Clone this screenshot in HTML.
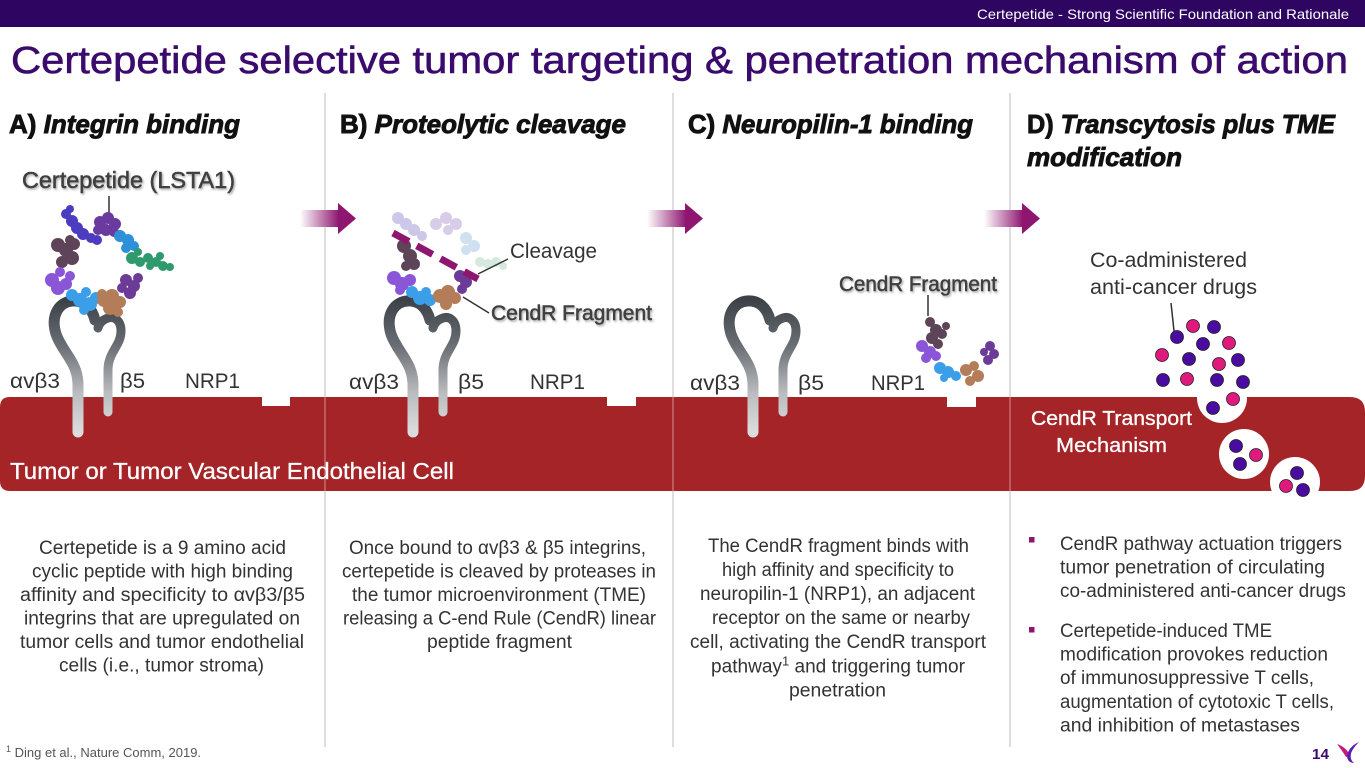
<!DOCTYPE html>
<html><head><meta charset="utf-8">
<style>
html,body{margin:0;padding:0;background:#fff;}
svg{display:block;}
text{font-family:"Liberation Sans",Arial,sans-serif;}
</style></head>
<body>
<svg width="1365" height="768" viewBox="0 0 1365 768" xmlns="http://www.w3.org/2000/svg">
<defs>
  <linearGradient id="ig" gradientUnits="userSpaceOnUse" x1="0" y1="300" x2="0" y2="432">
    <stop offset="0" stop-color="#3c4148"/>
    <stop offset="0.35" stop-color="#6a6f75"/>
    <stop offset="0.7" stop-color="#b9bbbe"/>
    <stop offset="1" stop-color="#dcdcdc"/>
  </linearGradient>
  <linearGradient id="ag" x1="0" y1="0" x2="1" y2="0">
    <stop offset="0" stop-color="#ffffff"/>
    <stop offset="1" stop-color="#8e1670"/>
  </linearGradient>
  <filter id="sh" x="-10%" y="-30%" width="120%" height="160%">
    <feDropShadow dx="1.2" dy="1.5" stdDeviation="1" flood-color="#000" flood-opacity="0.35"/>
  </filter>
  <g id="integrin">
    <path d="M78 432 L78 385 C78 362 62 352 56 334 C50 314 60 302 72 301 C84 300 92 308 95 320" fill="none" stroke="url(#ig)" stroke-width="11" stroke-linecap="round"/>
    <path d="M108 412 L108 370 C108 352 121 346 121 331 C121 320 114 316 108 318 C102 320 99 324 98 328" fill="none" stroke="url(#ig)" stroke-width="9" stroke-linecap="round"/>
  </g>
  <g id="arrow">
    <rect x="0" y="210" width="39" height="17" fill="url(#ag)"/>
    <polygon points="38,203 56,218.5 38,234" fill="#8e1670"/>
  </g>
</defs>

<!-- top bar -->
<rect x="0" y="0" width="1365" height="27" fill="#2e0561"/>
<text x="977" y="19" font-size="14" fill="#ffffff" textLength="372" lengthAdjust="spacingAndGlyphs">Certepetide - Strong Scientific Foundation and Rationale</text>

<!-- title -->
<text x="11" y="73" font-size="38" fill="#3a0b6c" stroke="#3a0b6c" stroke-width="0.6" textLength="1337" lengthAdjust="spacingAndGlyphs">Certepetide selective tumor targeting &amp; penetration mechanism of action</text>

<!-- dividers -->
<g stroke="#dedede" stroke-width="2">
  <line x1="325" y1="93" x2="325" y2="747"/>
  <line x1="673" y1="93" x2="673" y2="747"/>
  <line x1="1010" y1="93" x2="1010" y2="747"/>
</g>

<!-- section headers -->
<g font-weight="bold" font-size="26" fill="#111" stroke="#111" stroke-width="0.9">
  <text x="9" y="133" textLength="231" lengthAdjust="spacingAndGlyphs">A) <tspan font-style="italic">Integrin binding</tspan></text>
  <text x="340" y="133" textLength="286" lengthAdjust="spacingAndGlyphs">B) <tspan font-style="italic">Proteolytic cleavage</tspan></text>
  <text x="688" y="133" textLength="285" lengthAdjust="spacingAndGlyphs">C) <tspan font-style="italic">Neuropilin-1 binding</tspan></text>
  <text x="1027" y="133" textLength="308" lengthAdjust="spacingAndGlyphs">D) <tspan font-style="italic">Transcytosis plus TME</tspan></text>
  <text x="1027" y="166" font-style="italic" textLength="155" lengthAdjust="spacingAndGlyphs">modification</text>
</g>

<!-- arrows -->
<use href="#arrow" transform="translate(300,0)"/>
<use href="#arrow" transform="translate(647,0)"/>
<use href="#arrow" transform="translate(984,0)"/>

<!-- cell band -->
<path d="M10 397 L1350 397 Q1365 397 1365 412 L1365 476 Q1365 491 1350 491 L10 491 Q0 491 0 481 L0 407 Q0 397 10 397 Z" fill="#a42428"/>
<g stroke="#ffffff" stroke-opacity="0.25" stroke-width="2">
  <line x1="325" y1="397" x2="325" y2="491"/>
  <line x1="673" y1="397" x2="673" y2="491"/>
  <line x1="1010" y1="397" x2="1010" y2="491"/>
</g>
<!-- NRP1 notches -->
<rect x="262" y="396" width="28" height="10" fill="#fff"/>
<rect x="607" y="396" width="29" height="10" fill="#fff"/>
<rect x="947" y="396" width="29" height="11" fill="#fff"/>

<text x="10" y="479" font-size="23" fill="#ffffff" stroke="#fff" stroke-width="0.3" textLength="444" lengthAdjust="spacingAndGlyphs">Tumor or Tumor Vascular Endothelial Cell</text>

<!-- integrins -->
<use href="#integrin"/>
<use href="#integrin" transform="translate(335,0)"/>
<use href="#integrin" transform="translate(675,0)"/>

<!-- receptor labels -->
<g font-size="21" fill="#333">
  <text x="10" y="388" textLength="50" lengthAdjust="spacingAndGlyphs">αvβ3</text>
  <text x="120" y="388" textLength="25" lengthAdjust="spacingAndGlyphs">β5</text>
  <text x="185" y="388" textLength="55" lengthAdjust="spacingAndGlyphs">NRP1</text>
  <text x="349" y="389" textLength="50" lengthAdjust="spacingAndGlyphs">αvβ3</text>
  <text x="458" y="389" textLength="26" lengthAdjust="spacingAndGlyphs">β5</text>
  <text x="530" y="389" textLength="55" lengthAdjust="spacingAndGlyphs">NRP1</text>
  <text x="690" y="390" textLength="50" lengthAdjust="spacingAndGlyphs">αvβ3</text>
  <text x="798" y="390" textLength="26" lengthAdjust="spacingAndGlyphs">β5</text>
  <text x="871" y="390" textLength="54" lengthAdjust="spacingAndGlyphs">NRP1</text>
</g>

<!-- Panel A peptide -->
<text x="22" y="188" font-size="23" fill="#3f3f3f" stroke="#3f3f3f" stroke-width="0.5" filter="url(#sh)" textLength="213" lengthAdjust="spacingAndGlyphs">Certepetide (LSTA1)</text>
<line x1="109" y1="196" x2="109" y2="213" stroke="#333" stroke-width="1.5"/>
<g fill="#4b3cc0"><circle cx="66" cy="214" r="5"/><circle cx="72" cy="221" r="6"/><circle cx="77" cy="228" r="6"/><circle cx="83" cy="234" r="6"/><circle cx="91" cy="238" r="5"/><circle cx="97" cy="240" r="5"/><circle cx="70" cy="209" r="4"/></g>
<g fill="#6b3a9e"><circle cx="100" cy="222" r="6"/><circle cx="108" cy="218" r="6"/><circle cx="115" cy="224" r="6"/><circle cx="106" cy="230" r="6"/><circle cx="114" cy="232" r="5"/><circle cx="98" cy="230" r="5"/></g>
<g fill="#2e90d8"><circle cx="120" cy="236" r="6"/><circle cx="128" cy="240" r="6"/><circle cx="134" cy="246" r="5"/><circle cx="126" cy="248" r="5"/></g>
<g fill="#2e9a6e"><circle cx="132" cy="258" r="6"/><circle cx="140" cy="262" r="5"/><circle cx="148" cy="258" r="5"/><circle cx="156" cy="262" r="5"/><circle cx="163" cy="266" r="5"/><circle cx="170" cy="267" r="4"/><circle cx="150" cy="266" r="4"/><circle cx="138" cy="252" r="4"/><circle cx="160" cy="256" r="4"/></g>
<g fill="#5e4458"><circle cx="58" cy="245" r="7"/><circle cx="66" cy="250" r="7"/><circle cx="72" cy="258" r="7"/><circle cx="62" cy="262" r="6"/><circle cx="74" cy="244" r="6"/><circle cx="70" cy="240" r="5"/></g>
<g fill="#8b55d8"><circle cx="52" cy="280" r="7"/><circle cx="58" cy="288" r="7"/><circle cx="66" cy="284" r="6"/><circle cx="70" cy="276" r="5"/><circle cx="60" cy="272" r="5"/></g>
<g fill="#6c3b98"><circle cx="126" cy="280" r="6"/><circle cx="134" cy="286" r="6"/><circle cx="130" cy="293" r="6"/><circle cx="138" cy="278" r="5"/><circle cx="122" cy="288" r="5"/></g>
<g fill="#3a9ee8"><circle cx="72" cy="295" r="6"/><circle cx="80" cy="300" r="7"/><circle cx="90" cy="304" r="7"/><circle cx="96" cy="298" r="6"/><circle cx="86" cy="292" r="5"/><circle cx="84" cy="310" r="5"/></g>
<g fill="#b47c58"><circle cx="104" cy="300" r="7"/><circle cx="112" cy="296" r="7"/><circle cx="120" cy="302" r="6"/><circle cx="110" cy="308" r="7"/><circle cx="118" cy="312" r="5"/><circle cx="102" cy="294" r="5"/></g>

<!-- Panel B peptide -->
<g fill="#cdc7ea"><circle cx="398" cy="218" r="6"/><circle cx="406" cy="224" r="6"/><circle cx="414" cy="230" r="6"/><circle cx="422" cy="236" r="5"/></g>
<g fill="#d9cce9"><circle cx="436" cy="224" r="6"/><circle cx="446" cy="218" r="6"/><circle cx="456" cy="224" r="6"/><circle cx="448" cy="230" r="5"/></g>
<g fill="#cfe0f1"><circle cx="466" cy="238" r="6"/><circle cx="474" cy="246" r="6"/><circle cx="466" cy="250" r="5"/></g>
<g fill="#d5e9de"><circle cx="480" cy="262" r="5"/><circle cx="488" cy="264" r="5"/><circle cx="496" cy="262" r="5"/><circle cx="503" cy="266" r="4"/></g>
<g fill="#5e4458"><circle cx="404" cy="246" r="7"/><circle cx="410" cy="256" r="7"/><circle cx="414" cy="264" r="6"/><circle cx="406" cy="266" r="5"/></g>
<g fill="#8b55d8"><circle cx="394" cy="278" r="7"/><circle cx="402" cy="284" r="7"/><circle cx="410" cy="280" r="6"/><circle cx="400" cy="290" r="5"/></g>
<g fill="#3a9ee8"><circle cx="412" cy="292" r="6"/><circle cx="420" cy="298" r="7"/><circle cx="430" cy="300" r="6"/><circle cx="426" cy="292" r="5"/></g>
<g fill="#b47c58"><circle cx="440" cy="296" r="7"/><circle cx="448" cy="292" r="7"/><circle cx="455" cy="298" r="6"/><circle cx="446" cy="304" r="6"/></g>
<g fill="#6c3b98"><circle cx="460" cy="276" r="6"/><circle cx="466" cy="282" r="6"/><circle cx="462" cy="289" r="5"/></g>
<line x1="393" y1="233" x2="478" y2="279" stroke="#8e1670" stroke-width="7" stroke-dasharray="18 9"/>
<line x1="478" y1="274" x2="508" y2="259" stroke="#333" stroke-width="1.5"/>
<line x1="463" y1="297" x2="489" y2="313" stroke="#333" stroke-width="1.5"/>
<text x="510" y="258" font-size="21" fill="#333" textLength="87" lengthAdjust="spacingAndGlyphs">Cleavage</text>
<text x="491" y="320" font-size="21" fill="#3f3f3f" stroke="#3f3f3f" stroke-width="0.5" filter="url(#sh)" textLength="161" lengthAdjust="spacingAndGlyphs">CendR Fragment</text>

<!-- Panel C fragment -->
<text x="839" y="291" font-size="21" fill="#3f3f3f" stroke="#3f3f3f" stroke-width="0.5" filter="url(#sh)" textLength="158" lengthAdjust="spacingAndGlyphs">CendR Fragment</text>
<line x1="928" y1="295" x2="928" y2="316" stroke="#333" stroke-width="1.5"/>
<g fill="#5e4458"><circle cx="930" cy="322" r="5"/><circle cx="936" cy="330" r="6"/><circle cx="932" cy="338" r="6"/><circle cx="942" cy="334" r="5"/><circle cx="938" cy="344" r="5"/><circle cx="946" cy="326" r="4"/></g>
<g fill="#8b55d8"><circle cx="922" cy="346" r="6"/><circle cx="930" cy="352" r="6"/><circle cx="926" cy="358" r="5"/><circle cx="936" cy="356" r="5"/></g>
<g fill="#3a9ee8"><circle cx="940" cy="368" r="6"/><circle cx="948" cy="372" r="6"/><circle cx="956" cy="376" r="5"/><circle cx="944" cy="378" r="4"/></g>
<g fill="#b47c58"><circle cx="966" cy="370" r="6"/><circle cx="974" cy="366" r="5"/><circle cx="978" cy="376" r="6"/><circle cx="970" cy="381" r="5"/></g>
<g fill="#6c3b98"><circle cx="990" cy="346" r="5"/><circle cx="994" cy="354" r="5"/><circle cx="988" cy="360" r="5"/><circle cx="984" cy="352" r="4"/></g>

<!-- Panel D -->
<text x="1090" y="267" font-size="21" fill="#333" textLength="157" lengthAdjust="spacingAndGlyphs">Co-administered</text>
<text x="1090" y="294" font-size="21" fill="#333" textLength="167" lengthAdjust="spacingAndGlyphs">anti-cancer drugs</text>
<line x1="1171" y1="303" x2="1174" y2="331" stroke="#333" stroke-width="1.5"/>
<text x="1031" y="425" font-size="20" fill="#fff" stroke="#fff" stroke-width="0.3" textLength="161" lengthAdjust="spacingAndGlyphs">CendR Transport</text>
<text x="1056" y="452" font-size="20" fill="#fff" stroke="#fff" stroke-width="0.3" textLength="111" lengthAdjust="spacingAndGlyphs">Mechanism</text>
<g fill="#fff">
  <circle cx="1222" cy="398" r="25"/>
  <circle cx="1244" cy="454" r="25"/>
  <circle cx="1295" cy="482" r="25"/>
</g>
<g stroke="#222" stroke-width="0.8">
  <g fill="#e0197c">
    <circle cx="1193" cy="326" r="6.5"/><circle cx="1229" cy="343" r="6.5"/><circle cx="1162" cy="355" r="6.5"/>
    <circle cx="1219" cy="364" r="6.5"/><circle cx="1187" cy="379" r="6.5"/><circle cx="1233" cy="399" r="6.5"/>
    <circle cx="1256" cy="455" r="6.5"/><circle cx="1286" cy="486" r="6.5"/>
  </g>
  <g fill="#4a0ca0">
    <circle cx="1214" cy="327" r="6.5"/><circle cx="1177" cy="337" r="6.5"/><circle cx="1203" cy="344" r="6.5"/>
    <circle cx="1189" cy="359" r="6.5"/><circle cx="1238" cy="360" r="6.5"/><circle cx="1163" cy="380" r="6.5"/>
    <circle cx="1217" cy="380" r="6.5"/><circle cx="1243" cy="382" r="6.5"/><circle cx="1213" cy="408" r="6.5"/>
    <circle cx="1236" cy="446" r="6.5"/><circle cx="1240" cy="464" r="6.5"/><circle cx="1297" cy="473" r="6.5"/>
    <circle cx="1303" cy="490" r="6.5"/>
  </g>
</g>

<!-- body text -->
<g font-size="19" fill="#333">
  <text x="39" y="554" textLength="247" lengthAdjust="spacingAndGlyphs">Certepetide is a 9 amino acid</text>
  <text x="32" y="577.5" textLength="261" lengthAdjust="spacingAndGlyphs">cyclic peptide with high binding</text>
  <text x="20" y="601" textLength="285" lengthAdjust="spacingAndGlyphs">affinity and specificity to αvβ3/β5</text>
  <text x="24" y="624.5" textLength="276" lengthAdjust="spacingAndGlyphs">integrins that are upregulated on</text>
  <text x="20" y="648" textLength="284" lengthAdjust="spacingAndGlyphs">tumor cells and tumor endothelial</text>
  <text x="59" y="671.5" textLength="205" lengthAdjust="spacingAndGlyphs">cells (i.e., tumor stroma)</text>

  <text x="349" y="554" textLength="297" lengthAdjust="spacingAndGlyphs">Once bound to αvβ3 &amp; β5 integrins,</text>
  <text x="342" y="577.5" textLength="314" lengthAdjust="spacingAndGlyphs">certepetide is cleaved by proteases in</text>
  <text x="352" y="601" textLength="294" lengthAdjust="spacingAndGlyphs">the tumor microenvironment (TME)</text>
  <text x="343" y="624.5" textLength="313" lengthAdjust="spacingAndGlyphs">releasing a C-end Rule (CendR) linear</text>
  <text x="427" y="648" textLength="145" lengthAdjust="spacingAndGlyphs">peptide fragment</text>

  <text x="708" y="552" textLength="261" lengthAdjust="spacingAndGlyphs">The CendR fragment binds with</text>
  <text x="722" y="576" textLength="232" lengthAdjust="spacingAndGlyphs">high affinity and specificity to</text>
  <text x="700" y="600" textLength="275" lengthAdjust="spacingAndGlyphs">neuropilin-1 (NRP1), an adjacent</text>
  <text x="712" y="624" textLength="258" lengthAdjust="spacingAndGlyphs">receptor on the same or nearby</text>
  <text x="690" y="648" textLength="296" lengthAdjust="spacingAndGlyphs">cell, activating the CendR transport</text>
  <text x="711" y="672.5" textLength="254" lengthAdjust="spacingAndGlyphs">pathway<tspan font-size="13" dy="-7">1</tspan><tspan dy="7"> and triggering tumor</tspan></text>
  <text x="789" y="696.5" textLength="97" lengthAdjust="spacingAndGlyphs">penetration</text>

  <text x="1060" y="550" textLength="282" lengthAdjust="spacingAndGlyphs">CendR pathway actuation triggers</text>
  <text x="1060" y="573.5" textLength="265" lengthAdjust="spacingAndGlyphs">tumor penetration of circulating</text>
  <text x="1060" y="597" textLength="286" lengthAdjust="spacingAndGlyphs">co-administered anti-cancer drugs</text>
  <text x="1060" y="637" textLength="212" lengthAdjust="spacingAndGlyphs">Certepetide-induced TME</text>
  <text x="1060" y="660.5" textLength="268" lengthAdjust="spacingAndGlyphs">modification provokes reduction</text>
  <text x="1060" y="684" textLength="254" lengthAdjust="spacingAndGlyphs">of immunosuppressive T cells,</text>
  <text x="1060" y="708" textLength="274" lengthAdjust="spacingAndGlyphs">augmentation of cytotoxic T cells,</text>
  <text x="1060" y="731.5" textLength="240" lengthAdjust="spacingAndGlyphs">and inhibition of metastases</text>
</g>
<rect x="1029" y="537" width="5.5" height="5.5" fill="#8e1670"/>
<rect x="1029" y="627" width="5.5" height="5.5" fill="#8e1670"/>

<!-- footer -->
<text x="6" y="757" font-size="13" fill="#555"><tspan font-size="9" dy="-5">1</tspan><tspan dy="5"> Ding et al., Nature Comm, 2019.</tspan></text>
<text x="1312" y="759" font-size="15" font-weight="bold" fill="#3a0b6c" textLength="17" lengthAdjust="spacingAndGlyphs">14</text>
<path d="M1337 744 C1343 746 1348 750 1350 756 L1346 757 C1343 752 1340 748 1337 744 Z" fill="#c8177a"/>
<path d="M1359 742 C1352 745 1348 750 1347 756 C1347 760 1350 763 1354 763 C1350 760 1350 755 1352 751 C1354 747 1357 744 1359 742 Z" fill="#5a1fb0"/>
</svg>
</body></html>
